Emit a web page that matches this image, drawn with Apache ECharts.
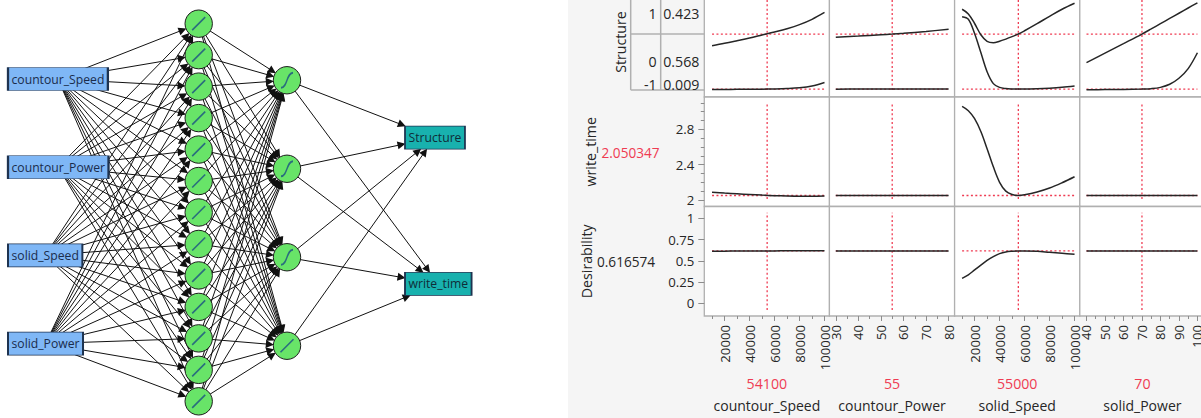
<!DOCTYPE html>
<html>
<head>
<meta charset="utf-8">
<script src="https://cdn.jsdelivr.net/npm/echarts@6.0.0/dist/echarts.min.js"></script>
<style>
html,body{margin:0;padding:0;background:#ffffff;}
#chart{width:1201px;height:418px;}
</style>
</head>
<body>
<div id="chart"></div>
<script>
// ================= DATA: neural network =================
const inputNames = ['countour_Speed', 'countour_Power', 'solid_Speed', 'solid_Power'];
const hidden1Activations = ['linear', 'linear', 'linear', 'linear', 'linear', 'linear', 'linear',
                            'linear', 'linear', 'linear', 'linear', 'linear', 'linear'];
const hidden2Activations = ['tanh', 'tanh', 'tanh', 'linear'];
const outputNames = ['Structure', 'write_time'];

// ================= DATA: prediction profiler =================
const factorNames = ['countour_Speed', 'countour_Power', 'solid_Speed', 'solid_Power'];
const factorCurrent = [54100, 55, 55000, 70];
const factorLow = [10000, 30, 10000, 40];
const factorHigh = [100000, 80, 100000, 100];
const factorTicks = [
  [20000, 40000, 60000, 80000, 100000],
  [30, 40, 50, 60, 70, 80],
  [20000, 40000, 60000, 80000, 100000],
  [40, 50, 60, 70, 80, 90, 100]
];
const factorMinorTicks = [
  [10000, 30000, 50000, 70000, 90000],
  [35, 45, 55, 65, 75],
  [10000, 30000, 50000, 70000, 90000],
  [45, 55, 65, 75, 85, 95]
];
const responseNames = ['Structure', 'write_time', 'Desirability'];
const structureLevels = ['1', '0', '-1'];
const structureProbs = [0.423, 0.568, 0.009];
const writeTimeCurrent = 2.050347;
const desirabilityCurrent = 0.616574;
const writeTimeTicks = [2, 2.4, 2.8];
const writeTimeMinorTicks = [2.1, 2.2, 2.3, 2.5, 2.6, 2.7, 2.9, 3.0, 3.1];
const desirabilityTicks = [0, 0.25, 0.5, 0.75, 1];

// profile traces: countour_Speed
const cSpeedX = [10000, 20000, 30000, 40000, 50000, 60000, 70000, 80000, 90000, 100000];
const cSpeedCumLow = [0.005, 0.005, 0.006, 0.007, 0.008, 0.010, 0.014, 0.022, 0.040, 0.076];
const cSpeedCumMid = [0.457, 0.481, 0.508, 0.536, 0.567, 0.598, 0.632, 0.674, 0.729, 0.800];
const cSpeedWrite = [2.087, 2.078, 2.070, 2.062, 2.055, 2.049, 2.045, 2.043, 2.043, 2.044];
const cSpeedDesir = [0.613, 0.614, 0.615, 0.616, 0.6165, 0.617, 0.6175, 0.618, 0.618, 0.618];
// countour_Power
const cPowerX = [30, 40, 50, 55, 60, 70, 80];
const cPowerCumLow = [0.008, 0.0085, 0.0088, 0.009, 0.0093, 0.0097, 0.010];
const cPowerCumMid = [0.543, 0.556, 0.570, 0.577, 0.585, 0.604, 0.626];
const cPowerWrite = [2.051, 2.0507, 2.0505, 2.0503, 2.0502, 2.050, 2.0498];
const cPowerDesir = [0.6166, 0.6166, 0.6166, 0.6166, 0.6166, 0.6166, 0.6166];
// solid_Speed
const sSpeedX = [10000, 15000, 20000, 25000, 30000, 35000, 40000, 45000, 50000, 55000, 60000, 70000, 80000, 90000, 100000];
const sSpeedCumLow = [0.756, 0.730, 0.582, 0.386, 0.188, 0.065, 0.026, 0.014, 0.010, 0.009, 0.009, 0.012, 0.018, 0.027, 0.040];
const sSpeedCumMid = [0.833, 0.785, 0.686, 0.570, 0.502, 0.488, 0.503, 0.525, 0.550, 0.577, 0.611, 0.684, 0.760, 0.833, 0.895];
const sSpeedWrite = [3.059, 3.010, 2.920, 2.775, 2.580, 2.375, 2.200, 2.100, 2.062, 2.050, 2.058, 2.090, 2.135, 2.195, 2.263];
const sSpeedDesir = [0.294, 0.335, 0.393, 0.450, 0.505, 0.550, 0.585, 0.605, 0.613, 0.6166, 0.617, 0.612, 0.600, 0.588, 0.576];
// solid_Power
const sPowerX = [40, 50, 60, 70, 75, 80, 85, 90, 95, 100];
const sPowerCumLow = [0.002, 0.003, 0.005, 0.009, 0.013, 0.026, 0.058, 0.120, 0.220, 0.384];
const sPowerCumMid = [0.281, 0.380, 0.478, 0.577, 0.630, 0.684, 0.738, 0.792, 0.846, 0.900];
const sPowerWrite = [2.0503, 2.0503, 2.0503, 2.0503, 2.0503, 2.0503, 2.0503, 2.0503, 2.0503, 2.0503];
const sPowerDesir = [0.6166, 0.6166, 0.6166, 0.6166, 0.6166, 0.6166, 0.6166, 0.6166, 0.6166, 0.6166];

// ================= LAYOUT & STYLE =================
const FONT = '"Open Sans", "Noto Sans", "DejaVu Sans", sans-serif';
const RED = '#ef3b52';
const INK = '#262626';
const NET = {
  inputLeft: 8, outputLeft: 405, h1X: 198.7, h2X: 287,
  inputMid: 211.3, inputGap: 88.2, h1Mid: 212.5, h1Gap: 31.47,
  h2Mid: 213, h2Gap: 88.5, outMid: 210.7, outGap: 146.3,
  boxH: 23, boxPadX: 3.5, radius: 13.7, arrow: 8, labelSize: 12.2
};
const PROF = {
  colLeft: [704.3, 829.4, 954.6, 1079.8], colW: 125.2,
  rowTop: [-13, 97, 206.5], rowH: [110, 109.5, 109.5],
  xMin: [3800, 27.17, 4000, 36.38], xMax: [104000, 82.65, 104200, 104.1],
  yMin: [-0.0733, 1.926, -0.149], yMax: [1.063, 3.166, 1.139],
  ySpan: [[0, 1], [2.012, 3.1], [-0.078, 1.066]]
};

const spread = (n, mid, gap) => Array.from({length: n}, (_, i) => mid + (i - (n - 1) / 2) * gap);
const mctx = document.createElement('canvas').getContext('2d');
function textWidth(s, size) { mctx.font = size + 'px ' + FONT; return mctx.measureText(s).width; }

// ---- network nodes
const inY = spread(inputNames.length, NET.inputMid, NET.inputGap);
const inputNodes = inputNames.map((n, i) => {
  const w = textWidth(n, NET.labelSize) + 2 * NET.boxPadX;
  return {name: n, x: NET.inputLeft + w / 2, y: inY[i], w: w, h: NET.boxH, kind: 'input'};
});
const h1Y = spread(hidden1Activations.length, NET.h1Mid, NET.h1Gap);
const h1Nodes = hidden1Activations.map((a, i) => ({name: 'H1_' + (i + 1), x: NET.h1X, y: h1Y[i], r: NET.radius, act: a}));
const h2Y = spread(hidden2Activations.length, NET.h2Mid, NET.h2Gap);
const h2Nodes = hidden2Activations.map((a, i) => ({name: 'H2_' + (i + 1), x: NET.h2X, y: h2Y[i], r: NET.radius, act: a}));
const outY = spread(outputNames.length, NET.outMid, NET.outGap);
const outNodes = outputNames.map((n, i) => {
  const w = textWidth(n, NET.labelSize) + 2 * NET.boxPadX;
  return {name: n, x: NET.outputLeft + w / 2, y: outY[i], w: w, h: NET.boxH, kind: 'output'};
});

function arrowEnd(s, t) {
  const dx = t.x - s.x, dy = t.y - s.y, d = Math.hypot(dx, dy);
  let b;
  if (t.r) b = t.r;
  else {
    const sx = Math.abs(dx) > 1e-6 ? (t.w / 2) / Math.abs(dx) : Infinity;
    const sy = Math.abs(dy) > 1e-6 ? (t.h / 2) / Math.abs(dy) : Infinity;
    b = Math.min(sx, sy) * d;
  }
  const back = b + NET.arrow / 2 - 0.5;
  return [t.x - dx / d * back, t.y - dy / d * back];
}
const layers = [inputNodes, h1Nodes, h2Nodes, outNodes];
const edgeData = [];
for (let k = 0; k < 3; k++) {
  for (const s of layers[k]) for (const t of layers[k + 1]) {
    edgeData.push({coords: [[s.x, s.y], arrowEnd(s, t)]});
  }
}

const grids = [], xAxes = [], yAxes = [], series = [];
grids.push({left: 0, top: 0, width: 480, height: 418, show: false, outerBoundsMode: 'none', containLabel: false});
xAxes.push({gridIndex: 0, type: 'value', min: 0, max: 480, show: false});
yAxes.push({gridIndex: 0, type: 'value', min: 0, max: 418, inverse: true, show: false});

series.push({
  type: 'lines', coordinateSystem: 'cartesian2d', xAxisIndex: 0, yAxisIndex: 0, z: 1, silent: true,
  symbol: ['none', 'triangle'], symbolSize: NET.arrow,
  lineStyle: {color: '#111111', width: 1, opacity: 1, curveness: 0},
  data: edgeData
});

const boxItems = inputNodes.concat(outNodes).map(n => ({
  name: n.name, value: [n.x, n.y], symbol: 'rect', symbolSize: [n.w, n.h],
  itemStyle: {color: n.kind === 'input' ? '#7fb7f6' : '#18b1ae', borderColor: '#1e3350', borderWidth: 1.1, opacity: 1},
  label: {show: true, position: 'inside', formatter: '{b}', color: n.kind === 'input' ? '#1a2c4c' : '#0f2d38',
          fontSize: NET.labelSize, fontFamily: FONT}
}));
const circleNodes = h1Nodes.concat(h2Nodes);
const circleItems = circleNodes.map(n => ({
  name: n.name, value: [n.x, n.y], symbol: 'circle', symbolSize: 2 * n.r,
  itemStyle: {color: '#68e468', borderColor: '#1c1c1c', borderWidth: 1, opacity: 1},
  label: {show: false}
}));
series.push({type: 'scatter', xAxisIndex: 0, yAxisIndex: 0, z: 10, silent: true, animation: false,
  itemStyle: {opacity: 1},
  data: boxItems.concat(circleItems)});
series.push({type: 'scatter', xAxisIndex: 0, yAxisIndex: 0, z: 11, silent: true, animation: false,
  itemStyle: {opacity: 1},
  data: circleNodes.map(n => ({
    value: [n.x, n.y],
    symbol: n.act === 'linear' ? 'path://M0,16L16,0' : 'path://M0,20C11,20 9,0 20,0',
    symbolSize: n.act === 'linear' ? [13, 13] : [12, 15],
    itemStyle: {color: 'transparent', borderColor: '#2a6d7e', borderWidth: 1.6, opacity: 1}
  }))});

// ---- profiler
const traceX = [cSpeedX, cPowerX, sSpeedX, sPowerX];
const traces = [
  [[cSpeedCumLow, cSpeedCumMid], [cPowerCumLow, cPowerCumMid], [sSpeedCumLow, sSpeedCumMid], [sPowerCumLow, sPowerCumMid]],
  [[cSpeedWrite], [cPowerWrite], [sSpeedWrite], [sPowerWrite]],
  [[cSpeedDesir], [cPowerDesir], [sSpeedDesir], [sPowerDesir]]
];
const structCum = [structureProbs[2], structureProbs[2] + structureProbs[1]];
const rowCurrent = [structCum, [writeTimeCurrent], [desirabilityCurrent]];
const rowTicks = [null, writeTimeTicks, desirabilityTicks];
const rowMinor = [null, writeTimeMinorTicks, null];
const tickLabelStyle = {color: INK, fontSize: 13.2, fontFamily: FONT};
const noLine = {show: false, onZero: false};

for (let r = 0; r < 3; r++) {
  for (let c = 0; c < 4; c++) {
    const gi = grids.length;
    grids.push({left: PROF.colLeft[c], top: PROF.rowTop[r], width: PROF.colW, height: PROF.rowH[r],
      show: true, backgroundColor: '#ffffff', borderColor: '#b0b0b0', borderWidth: 1.3,
      outerBoundsMode: 'none', containLabel: false});
    const bottom = r === 2;
    const xi = xAxes.length;
    xAxes.push({gridIndex: gi, type: 'value', position: 'bottom', min: PROF.xMin[c], max: PROF.xMax[c], show: bottom,
      splitLine: {show: false}, axisLine: noLine,
      axisTick: {show: bottom, customValues: factorTicks[c], length: 5, lineStyle: {color: '#8c8c8c'}},
      axisLabel: Object.assign({show: bottom, customValues: factorTicks[c], rotate: 90, margin: 9, hideOverlap: false,
        formatter: v => String(v)}, tickLabelStyle)});
    if (bottom) {
      xAxes.push({gridIndex: gi, type: 'value', position: 'bottom', min: PROF.xMin[c], max: PROF.xMax[c],
        splitLine: {show: false}, axisLine: noLine, axisLabel: {show: false},
        axisTick: {show: true, customValues: factorMinorTicks[c], length: 3, lineStyle: {color: '#8c8c8c'}}});
    }
    const showY = c === 0 && rowTicks[r] !== null;
    const yi = yAxes.length;
    yAxes.push({gridIndex: gi, type: 'value', position: 'left', min: PROF.yMin[r], max: PROF.yMax[r], show: showY,
      splitLine: {show: false}, axisLine: noLine,
      axisTick: {show: showY, customValues: rowTicks[r] || [], length: 6, lineStyle: {color: '#8c8c8c'}},
      axisLabel: Object.assign({show: showY, customValues: rowTicks[r] || [], margin: 10, hideOverlap: false}, tickLabelStyle)});
    if (showY && rowMinor[r]) {
      yAxes.push({gridIndex: gi, type: 'value', position: 'left', min: PROF.yMin[r], max: PROF.yMax[r],
        splitLine: {show: false}, axisLine: noLine, axisLabel: {show: false},
        axisTick: {show: true, customValues: rowMinor[r], length: 3.5, lineStyle: {color: '#8c8c8c'}}});
    }
    const redStyle = {color: RED, width: 1.3, type: [2, 2.4]};
    // reference (current value) lines
    rowCurrent[r].forEach(v => series.push({type: 'line', xAxisIndex: xi, yAxisIndex: yi, z: 2, silent: true,
      symbol: 'none', animation: false, lineStyle: redStyle,
      data: [[factorLow[c], v], [factorHigh[c], v]]}));
    series.push({type: 'line', xAxisIndex: xi, yAxisIndex: yi, z: 2, silent: true, symbol: 'none', animation: false,
      lineStyle: redStyle, data: [[factorCurrent[c], PROF.ySpan[r][0]], [factorCurrent[c], PROF.ySpan[r][1]]]});
    // profile traces
    traces[r][c].forEach(ys => series.push({type: 'line', xAxisIndex: xi, yAxisIndex: yi, z: 3, silent: true,
      symbol: 'none', animation: false, smooth: 0.35,
      lineStyle: {color: '#262626', width: 1.5},
      data: traceX[c].map((x, i) => [x, ys[i]])}));
  }
}

// ---- text and frames outside the plots
const yPix = (r, v) => PROF.rowTop[r] + (PROF.yMax[r] - v) / (PROF.yMax[r] - PROF.yMin[r]) * PROF.rowH[r];
const txt = (t, x, y, o) => Object.assign({type: 'text', x: x, y: y, silent: true, z: 5,
  style: Object.assign({text: t, fill: INK, fontSize: 14.2, fontFamily: FONT,
    align: 'center', verticalAlign: 'middle', textAlign: 'center', textVerticalAlign: 'middle'}, (o && o.style) || {})},
  o ? {rotation: o.rotation || 0} : {});
const graphics = [];
graphics.push({type: 'rect', shape: {x: 568, y: 0, width: 633, height: 418}, style: {fill: '#f5f5f5'}, z: -10, silent: true});

// Structure level table
const tblL = 630.7, tblMid = 660.7, tblR = PROF.colLeft[0];
const bandEdges = [1, structCum[1], structCum[0], 0];
const lineStyle = {stroke: '#b0b0b0', lineWidth: 1.5};
graphics.push({type: 'line', shape: {x1: tblL, y1: -20, x2: tblL, y2: yPix(0, 0)}, style: lineStyle, z: 4, silent: true});
graphics.push({type: 'line', shape: {x1: tblMid, y1: -20, x2: tblMid, y2: yPix(0, 0)}, style: lineStyle, z: 4, silent: true});
[structCum[1], 0].forEach(v => graphics.push({type: 'line', shape: {x1: tblL, y1: yPix(0, v), x2: tblR, y2: yPix(0, v)},
  style: lineStyle, z: 4, silent: true}));
structureLevels.forEach((lev, i) => {
  const mid = Math.min((yPix(0, bandEdges[i]) + yPix(0, bandEdges[i + 1])) / 2, yPix(0, 0) - 5);
  graphics.push(txt(lev, tblMid - 4, mid, {style: {align: 'right', textAlign: 'right', fontSize: 14.2}}));
  graphics.push(txt(structureProbs[i].toFixed(3), tblMid + 2.5, mid, {style: {align: 'left', textAlign: 'left', fontSize: 14.2}}));
});

// response titles
const rowMid = r => PROF.rowTop[r] + PROF.rowH[r] / 2;
graphics.push(txt(responseNames[0], 620, rowMid(0), {rotation: Math.PI / 2}));
graphics.push(txt(responseNames[1], 590.5, rowMid(1), {rotation: Math.PI / 2}));
graphics.push(txt(String(writeTimeCurrent), 630.5, rowMid(1) + 0.5, {style: {fill: RED, fontSize: 13.6}}));
graphics.push(txt(responseNames[2], 586.7, rowMid(2), {rotation: Math.PI / 2}));
graphics.push(txt(String(desirabilityCurrent), 626, rowMid(2) + 0.5, {style: {fontSize: 13.6}}));

// factor values and names
factorNames.forEach((n, c) => {
  const cx = PROF.colLeft[c] + PROF.colW / 2;
  graphics.push(txt(String(factorCurrent[c]), cx, 383, {style: {fill: RED, fontSize: 14.2}}));
  graphics.push(txt(n, cx, 405.5, {style: {fontSize: 14}}));
});

const chart = echarts.init(document.getElementById('chart'), null, {renderer: 'svg', width: 1201, height: 418});
chart.setOption({
  animation: false,
  backgroundColor: '#ffffff',
  textStyle: {fontFamily: FONT},
  grid: grids, xAxis: xAxes, yAxis: yAxes, series: series,
  graphic: {elements: graphics}
});
</script>
</body>
</html>
